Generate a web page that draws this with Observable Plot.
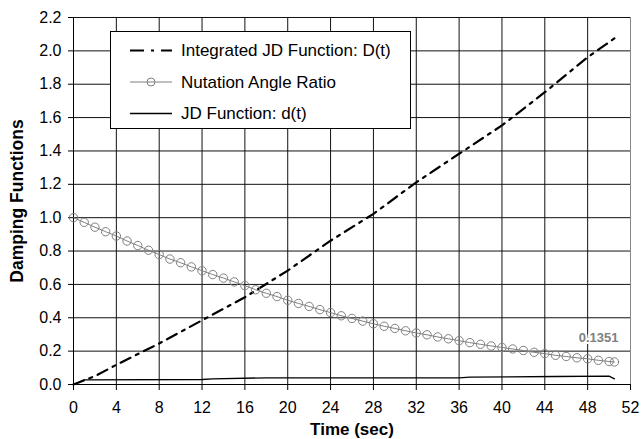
<!DOCTYPE html>
<html>
<head>
<meta charset="utf-8">
<script src="https://cdn.jsdelivr.net/npm/d3@7"></script>
<script src="https://cdn.jsdelivr.net/npm/@observablehq/plot@0.6"></script>
<style>
  body { margin: 0; background: #fff; }
  #wrap { position: relative; width: 642px; height: 439px; font-family: "Liberation Sans", Arial, sans-serif; }
  #legend { position: absolute; left: 110px; top: 31px; }
</style>
</head>
<body>
<div id="wrap"></div>
<script>
// ---- data ----
const xTicks = [0, 4, 8, 12, 16, 20, 24, 28, 32, 36, 40, 44, 48, 52];
const yTicks = [0, 0.2, 0.4, 0.6, 0.8, 1.0, 1.2, 1.4, 1.6, 1.8, 2.0, 2.2];
const yTickLabels = ["0.0","0.2","0.4","0.6","0.8","1.0","1.2","1.4","1.6","1.8","2.0","2.2"];

const ratioTime = [0,1,2,3,4,5,6,7,8,9,10,11,12,13,14,15,16,17,18,19,20,21,22,23,24,25,26,27,28,29,30,31,32,33,34,35,36,37,38,39,40,41,42,43,44,45,46,47,48,49,50,50.5];
const ratioValue = [1.000,0.972,0.943,0.916,0.890,0.860,0.833,0.805,0.779,0.752,0.730,0.705,0.682,0.659,0.638,0.615,0.593,0.568,0.547,0.527,0.505,0.486,0.468,0.449,0.431,0.412,0.396,0.380,0.364,0.349,0.336,0.322,0.309,0.298,0.285,0.274,0.263,0.251,0.241,0.231,0.222,0.213,0.204,0.193,0.185,0.175,0.168,0.160,0.154,0.145,0.138,0.1351];

const integTime = [0, 2, 4, 8, 12, 16, 20, 24, 28, 32, 36, 40, 44, 48, 50.5];
const integValue = [0, 0.05, 0.118, 0.246, 0.385, 0.523, 0.683, 0.862, 1.023, 1.212, 1.383, 1.553, 1.752, 1.962, 2.075];

const jdTime = [0, 1, 12, 13, 18, 36, 37, 45, 50, 50.5];
const jdValue = [0, 0.028, 0.030, 0.034, 0.040, 0.040, 0.044, 0.048, 0.050, 0.034];

const seriesNames = ["Integrated JD Function: D(t)", "Nutation Angle Ratio", "JD Function: d(t)"];
const xTitle = "Time (sec)";
const yTitle = "Damping Functions";

// ---- tables ----
const ratio = ratioTime.map((t, i) => ({t, v: ratioValue[i]}));
const integ = integTime.map((t, i) => ({t, v: integValue[i]}));
const jd = jdTime.map((t, i) => ({t, v: jdValue[i]}));
const lastRatio = ratio[ratio.length - 1];

const chart = Plot.plot({
  width: 642,
  height: 439,
  marginLeft: 73,
  marginRight: 12,
  marginTop: 17,
  marginBottom: 55,
  style: {fontFamily: "'Liberation Sans', Arial, sans-serif", fontSize: "16px", color: "#000", background: "#fff"},
  x: {domain: [0, 52], label: null},
  y: {domain: [0, 2.2], label: null},
  marks: [
    Plot.gridX(xTicks.filter(d => d < 52), {stroke: "#111", strokeOpacity: 1}),
    Plot.gridY(yTicks, {stroke: "#111", strokeOpacity: 1}),
    Plot.ruleX([52], {stroke: "#888"}),
    Plot.ruleX([0], {stroke: "#000"}),
    Plot.ruleY([0], {stroke: "#000"}),
    Plot.axisX(xTicks, {tickSize: 6, tickPadding: 11, label: null}),
    Plot.axisY(yTicks, {tickSize: 5, tickPadding: 7, label: null, tickFormat: (d) => yTickLabels[yTicks.indexOf(d)]}),
    Plot.line(jd, {x: "t", y: "v", stroke: "#000", strokeWidth: 1.3}),
    Plot.line(integ, {x: "t", y: "v", stroke: "#000", strokeWidth: 2.2, strokeDasharray: "11,6,3,6"}),
    Plot.line(ratio, {x: "t", y: "v", stroke: "#808080", strokeWidth: 1}),
    Plot.dot(ratio, {x: "t", y: "v", r: 4.2, stroke: "#808080", fill: "none", strokeWidth: 1}),
    Plot.text([lastRatio], {x: "t", y: "v", text: d => d.v.toFixed(4), textAnchor: "end", dx: 4, dy: -24, fill: "#808080", stroke: "#fff", strokeWidth: 4, fontWeight: "bold", fontSize: 13}),
    Plot.text([xTitle], {frameAnchor: "bottom", textAnchor: "middle", lineAnchor: "middle", dy: 45, fontWeight: "bold", fontSize: 17}),
    Plot.text([yTitle], {frameAnchor: "left", textAnchor: "middle", lineAnchor: "middle", dx: -56, rotate: -90, fontWeight: "bold", fontSize: 17.5})
  ]
});

const wrap = document.getElementById("wrap");
wrap.appendChild(chart);

// ---- legend ----
const lw = 301, lh = 98;
const legend = d3.create("svg").attr("id", "legend").attr("width", lw).attr("height", lh);
legend.append("rect").attr("x", 0.5).attr("y", 0.5).attr("width", lw - 1).attr("height", lh - 1)
  .attr("fill", "#fff").attr("stroke", "#000");
const rowY = [19.5, 51, 82.5];
const styles = [
  {stroke: "#000", width: 2.2, dash: "14,7,3,7", marker: false},
  {stroke: "#808080", width: 1, dash: null, marker: true},
  {stroke: "#000", width: 1.3, dash: null, marker: false}
];
seriesNames.forEach((name, i) => {
  const s = styles[i];
  const g = legend.append("g").attr("transform", `translate(0,${rowY[i]})`);
  const ln = g.append("line").attr("x1", 20).attr("x2", 62).attr("y1", 0).attr("y2", 0)
    .attr("stroke", s.stroke).attr("stroke-width", s.width);
  if (s.dash) ln.attr("stroke-dasharray", s.dash);
  if (s.marker) g.append("circle").attr("cx", 41).attr("cy", 0).attr("r", 4).attr("fill", "none").attr("stroke", s.stroke);
  g.append("text").attr("x", 71).attr("y", 0).attr("dy", "0.35em")
    .attr("font-family", "'Liberation Sans', Arial, sans-serif").attr("font-size", 17).text(name);
});
wrap.appendChild(legend.node());
</script>
</body>
</html>
